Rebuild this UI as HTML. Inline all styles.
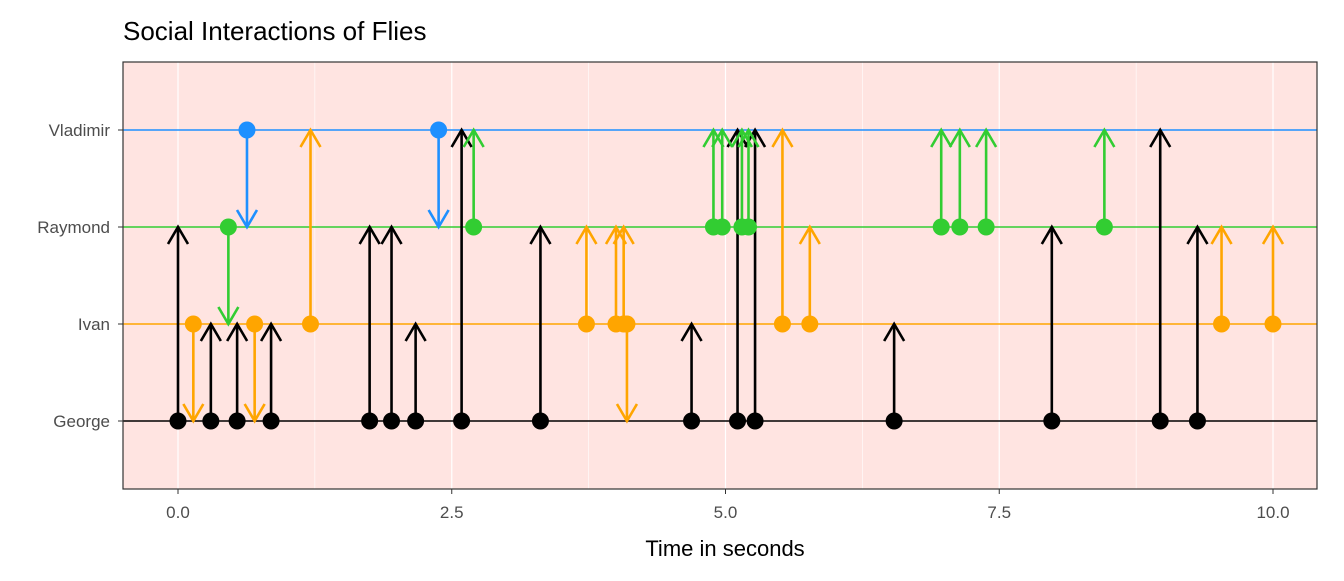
<!DOCTYPE html>
<html><head><meta charset="utf-8"><style>
body{margin:0;background:#fff;font-family:"Liberation Sans",sans-serif}
</style></head><body>
<svg width="1344" height="576" xmlns="http://www.w3.org/2000/svg">
<g id="root"></g>
</svg>
<script>
const flies=["George","Ivan","Raymond","Vladimir"];
const flyColors=["#000000","#FFA500","#32CD32","#1E90FF"];
const xTicks=[0,2.5,5,7.5,10];
const xTickLabels=["0.0","2.5","5.0","7.5","10.0"];
const times=[0.0,0.30,0.54,0.85,1.75,1.95,2.17,2.59,3.31,4.69,5.11,5.27,6.54,7.98,8.97,9.31,
 0.14,0.70,1.21,3.73,4.00,4.07,4.10,5.52,5.77,9.53,10.0,
 0.46,2.70,4.89,4.97,5.15,5.21,6.97,7.14,7.38,8.46,
 0.63,2.38];
const fromFly=[0,0,0,0,0,0,0,0,0,0,0,0,0,0,0,0,
 1,1,1,1,1,1,1,1,1,1,1,
 2,2,2,2,2,2,2,2,2,2,
 3,3];
const toFly=[2,1,1,1,2,2,1,3,2,1,3,3,1,2,3,2,
 0,0,3,2,2,2,0,3,2,2,2,
 1,3,3,3,3,3,3,3,3,3,
 2,2];
const L=123,R=1317,T=62,B=489;
const xs=v=>178+v*(1273-178)/10;
const ys=i=>421-i*(421-130)/3;
const NS="http://www.w3.org/2000/svg";
const root=document.getElementById('root');
function mk(t,a,p){const e=document.createElementNS(NS,t);for(const k in a)e.setAttribute(k,a[k]);(p||root).appendChild(e);return e;}
let e=mk('rect',{x:L,y:T,width:R-L,height:B-T,fill:'#FFE4E1'});

for(let i=0;i<xTicks.length;i++){
 e=mk('line',{x1:xs(xTicks[i]),x2:xs(xTicks[i]),y1:T,y2:B,stroke:'#fff','stroke-width':1.2});
 
 if(i<xTicks.length-1){const m=(xTicks[i]+xTicks[i+1])/2;
 e=mk('line',{x1:xs(m),x2:xs(m),y1:T,y2:B,stroke:'#fff','stroke-width':0.6});
 }
 e=mk('line',{x1:xs(xTicks[i]),x2:xs(xTicks[i]),y1:B,y2:B+5,stroke:'#333','stroke-width':1});
 
 e=mk('text',{x:xs(xTicks[i]),y:B+29,'text-anchor':'middle','font-size':17,fill:'#4D4D4D'});
 e.textContent=xTickLabels[i];
 
}
for(let i=0;i<flies.length;i++){
 e=mk('line',{x1:L,x2:R,y1:ys(i),y2:ys(i),stroke:flyColors[i],'stroke-width':1.6});
 
 e=mk('line',{x1:L-5,x2:L,y1:ys(i),y2:ys(i),stroke:'#333','stroke-width':1});
 
 e=mk('text',{x:L-13,y:ys(i)+6,'text-anchor':'end','font-size':17,fill:'#4D4D4D'});
 e.textContent=flies[i];
 
}
for(let k=0;k<times.length;k++){
 const x=xs(times[k]),y0=ys(fromFly[k]),y1=ys(toFly[k]),c=flyColors[fromFly[k]];
 const d=y1<y0?1:-1;
 const g=mk('g',{});
 
 mk('line',{x1:x,x2:x,y1:y0,y2:y1,stroke:c,'stroke-width':2.6},g);
 mk('path',{d:`M${x-10} ${y1+d*17} L${x} ${y1} L${x+10} ${y1+d*17}`,fill:'none',stroke:c,'stroke-width':2.6},g);
 mk('circle',{cx:x,cy:y0,r:8.5,fill:c},g);
}
e=mk('rect',{x:L,y:T,width:R-L,height:B-T,fill:'none',stroke:'#333','stroke-width':1.2});

e=mk('text',{x:123,y:40,'font-size':26,fill:'#000'});e.textContent='Social Interactions of Flies';

e=mk('text',{x:725,y:556,'text-anchor':'middle','font-size':22,fill:'#000'});e.textContent='Time in seconds';

</script>
</body></html>
